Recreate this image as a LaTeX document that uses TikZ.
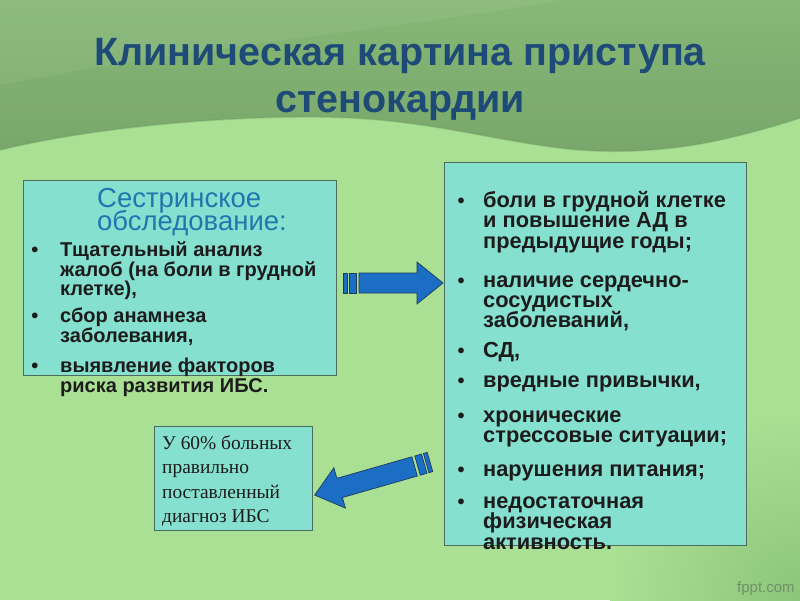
\documentclass[tikz,border=0pt]{standalone}
\usepackage{fontspec}
\setmainfont{Liberation Sans}
\newfontfamily\serifru{Liberation Serif}
\definecolor{bglight}{HTML}{A9E094}
\definecolor{bgcorner}{HTML}{8CC47B}
\definecolor{bandT}{HTML}{86B876}
\definecolor{bandB}{HTML}{79A76B}
\definecolor{bandedge}{HTML}{6E9862}
\definecolor{titleblue}{HTML}{1E4A78}
\definecolor{headblue}{HTML}{1E78AE}
\definecolor{panelfill}{HTML}{86E0CF}
\definecolor{panelline}{HTML}{4D6B5E}
\definecolor{arrowfill}{HTML}{1C6EC4}
\definecolor{arrowline}{HTML}{1E3A5C}
\definecolor{txt}{HTML}{1C1C1C}
\definecolor{mark}{HTML}{6F9266}
\newcommand{\blockarrowshape}[1]{%
  \filldraw[arrowbody] (0,-10) rectangle (4,10);
  \filldraw[arrowbody] (6,-10) rectangle (13,10);
  \filldraw[arrowbody] (16,-10) -- ({#1-26},-10) -- ({#1-26},-21) -- (#1,0)
     -- ({#1-26},21) -- ({#1-26},10) -- (16,10) -- cycle;}
\begin{document}
\begin{tikzpicture}[x=1pt,y=-1pt,
  panel/.style={draw=panelline,line width=0.9pt,fill=panelfill,inner sep=0pt,anchor=north west},
  arrowbody/.style={fill=arrowfill,draw=arrowline,line width=0.7pt},
  titletext/.style={text=titleblue,font=\bfseries\fontsize{39.5}{44}\selectfont,inner sep=0pt,anchor=base},
  headtext/.style={text=headblue,font=\fontsize{27.5}{22}\selectfont,inner sep=0pt,anchor=base west},
  ltext/.style={text=txt,font=\bfseries\fontsize{20}{20}\selectfont,inner sep=0pt,anchor=base west},
  rtext/.style={text=txt,font=\bfseries\fontsize{21.8}{20}\selectfont,inner sep=0pt,anchor=base west},
  bul/.style={text=txt,font=\bfseries\fontsize{20}{20}\selectfont,inner sep=0pt,anchor=base},
  stext/.style={text=txt,font=\serifru\fontsize{19.4}{24}\selectfont,inner sep=0pt,anchor=base west}]
\useasboundingbox (0,0) rectangle (800,600);
% background
\fill[bglight] (0,0) rectangle (800,600);
\shade[inner color=bgcorner,outer color=bglight] (800,600) circle (190);
\shade[top color=bandT,bottom color=bandB]
  (0,0) -- (800,0) -- (800,118)
  .. controls (770,128) and (720,142) .. (680,147)
  .. controls (640,152) and (600,153) .. (560,148)
  .. controls (480,138) and (420,118) .. (320,117)
  .. controls (220,116) and (90,128) .. (0,150) -- cycle;
\draw[bandedge,line width=1.5pt,opacity=0.35]
  (800,118)
  .. controls (770,128) and (720,142) .. (680,147)
  .. controls (640,152) and (600,153) .. (560,148)
  .. controls (480,138) and (420,118) .. (320,117)
  .. controls (220,116) and (90,128) .. (0,150);
\fill[white,opacity=0.06] (0,0) -- (560,0) .. controls (400,30) and (200,45) .. (0,85) -- cycle;
% title
\node[titletext] (t1) at (400,65) {Клиническая картина приступа};
\node[titletext] (t2) at (400,112) {стенокардии};
% panels
\node[panel,minimum width=313pt,minimum height=195pt] (lbox) at (23,180) {};
\node[panel,minimum width=302pt,minimum height=383pt] (rbox) at (444,162) {};
\node[panel,minimum width=158pt,minimum height=104pt] (bbox) at (154,426) {};
% left panel text
\node[headtext] (h1) at (97,207) {Сестринское};
\node[headtext] (h2) at (97,230) {обследование:};
\node[bul] (lb1) at (35,256) {•};
\node[ltext] (l1) at (60,256) {Тщательный анализ};
\node[ltext] (l2) at (60,276) {жалоб (на боли в грудной};
\node[ltext] (l3) at (60,295) {клетке),};
\node[bul] (lb2) at (35,322) {•};
\node[ltext] (l4) at (60,322) {сбор анамнеза};
\node[ltext] (l5) at (60,342) {заболевания,};
\node[bul] (lb3) at (35,372) {•};
\node[ltext] (l6) at (60,372) {выявление факторов};
\node[ltext] (l7) at (60,392) {риска развития ИБС.};
% right panel text
\node[bul] (rb1) at (461,207) {•};
\node[rtext] (r1) at (483,207) {боли в грудной клетке};
\node[rtext] (r2) at (483,227.5) {и повышение АД в};
\node[rtext] (r3) at (483,248) {предыдущие годы;};
\node[bul] (rb2) at (461,287) {•};
\node[rtext] (r4) at (483,287) {наличие сердечно-};
\node[rtext] (r5) at (483,307) {сосудистых};
\node[rtext] (r6) at (483,327) {заболеваний,};
\node[bul] (rb3) at (461,357) {•};
\node[rtext] (r7) at (483,357) {СД,};
\node[bul] (rb4) at (461,387) {•};
\node[rtext] (r8) at (483,387) {вредные привычки,};
\node[bul] (rb5) at (461,422) {•};
\node[rtext] (r9) at (483,422) {хронические};
\node[rtext] (r10) at (483,442.5) {стрессовые ситуации;};
\node[bul] (rb6) at (461,476) {•};
\node[rtext] (r11) at (483,476) {нарушения питания;};
\node[bul] (rb7) at (461,508) {•};
\node[rtext] (r12) at (483,508) {недостаточная};
\node[rtext] (r13) at (483,528.5) {физическая};
\node[rtext] (r14) at (483,549) {активность.};
% bottom box text
\node[stext] (s1) at (162,449) {У 60\% больных};
\node[stext] (s2) at (162,473.5) {правильно};
\node[stext] (s3) at (162,498) {поставленный};
\node[stext] (s4) at (162,522.5) {диагноз ИБС};
% arrows
\begin{scope}[shift={(343,283)}]
  \blockarrowshape{100}
\end{scope}
\begin{scope}[shift={(430,462)},rotate=196]
  \blockarrowshape{120}
\end{scope}
% watermark
\node[text=mark,font=\fontsize{15}{15}\selectfont,inner sep=0pt,anchor=base west] (wm) at (737,592) {fppt.com};
\end{tikzpicture}
\end{document}
